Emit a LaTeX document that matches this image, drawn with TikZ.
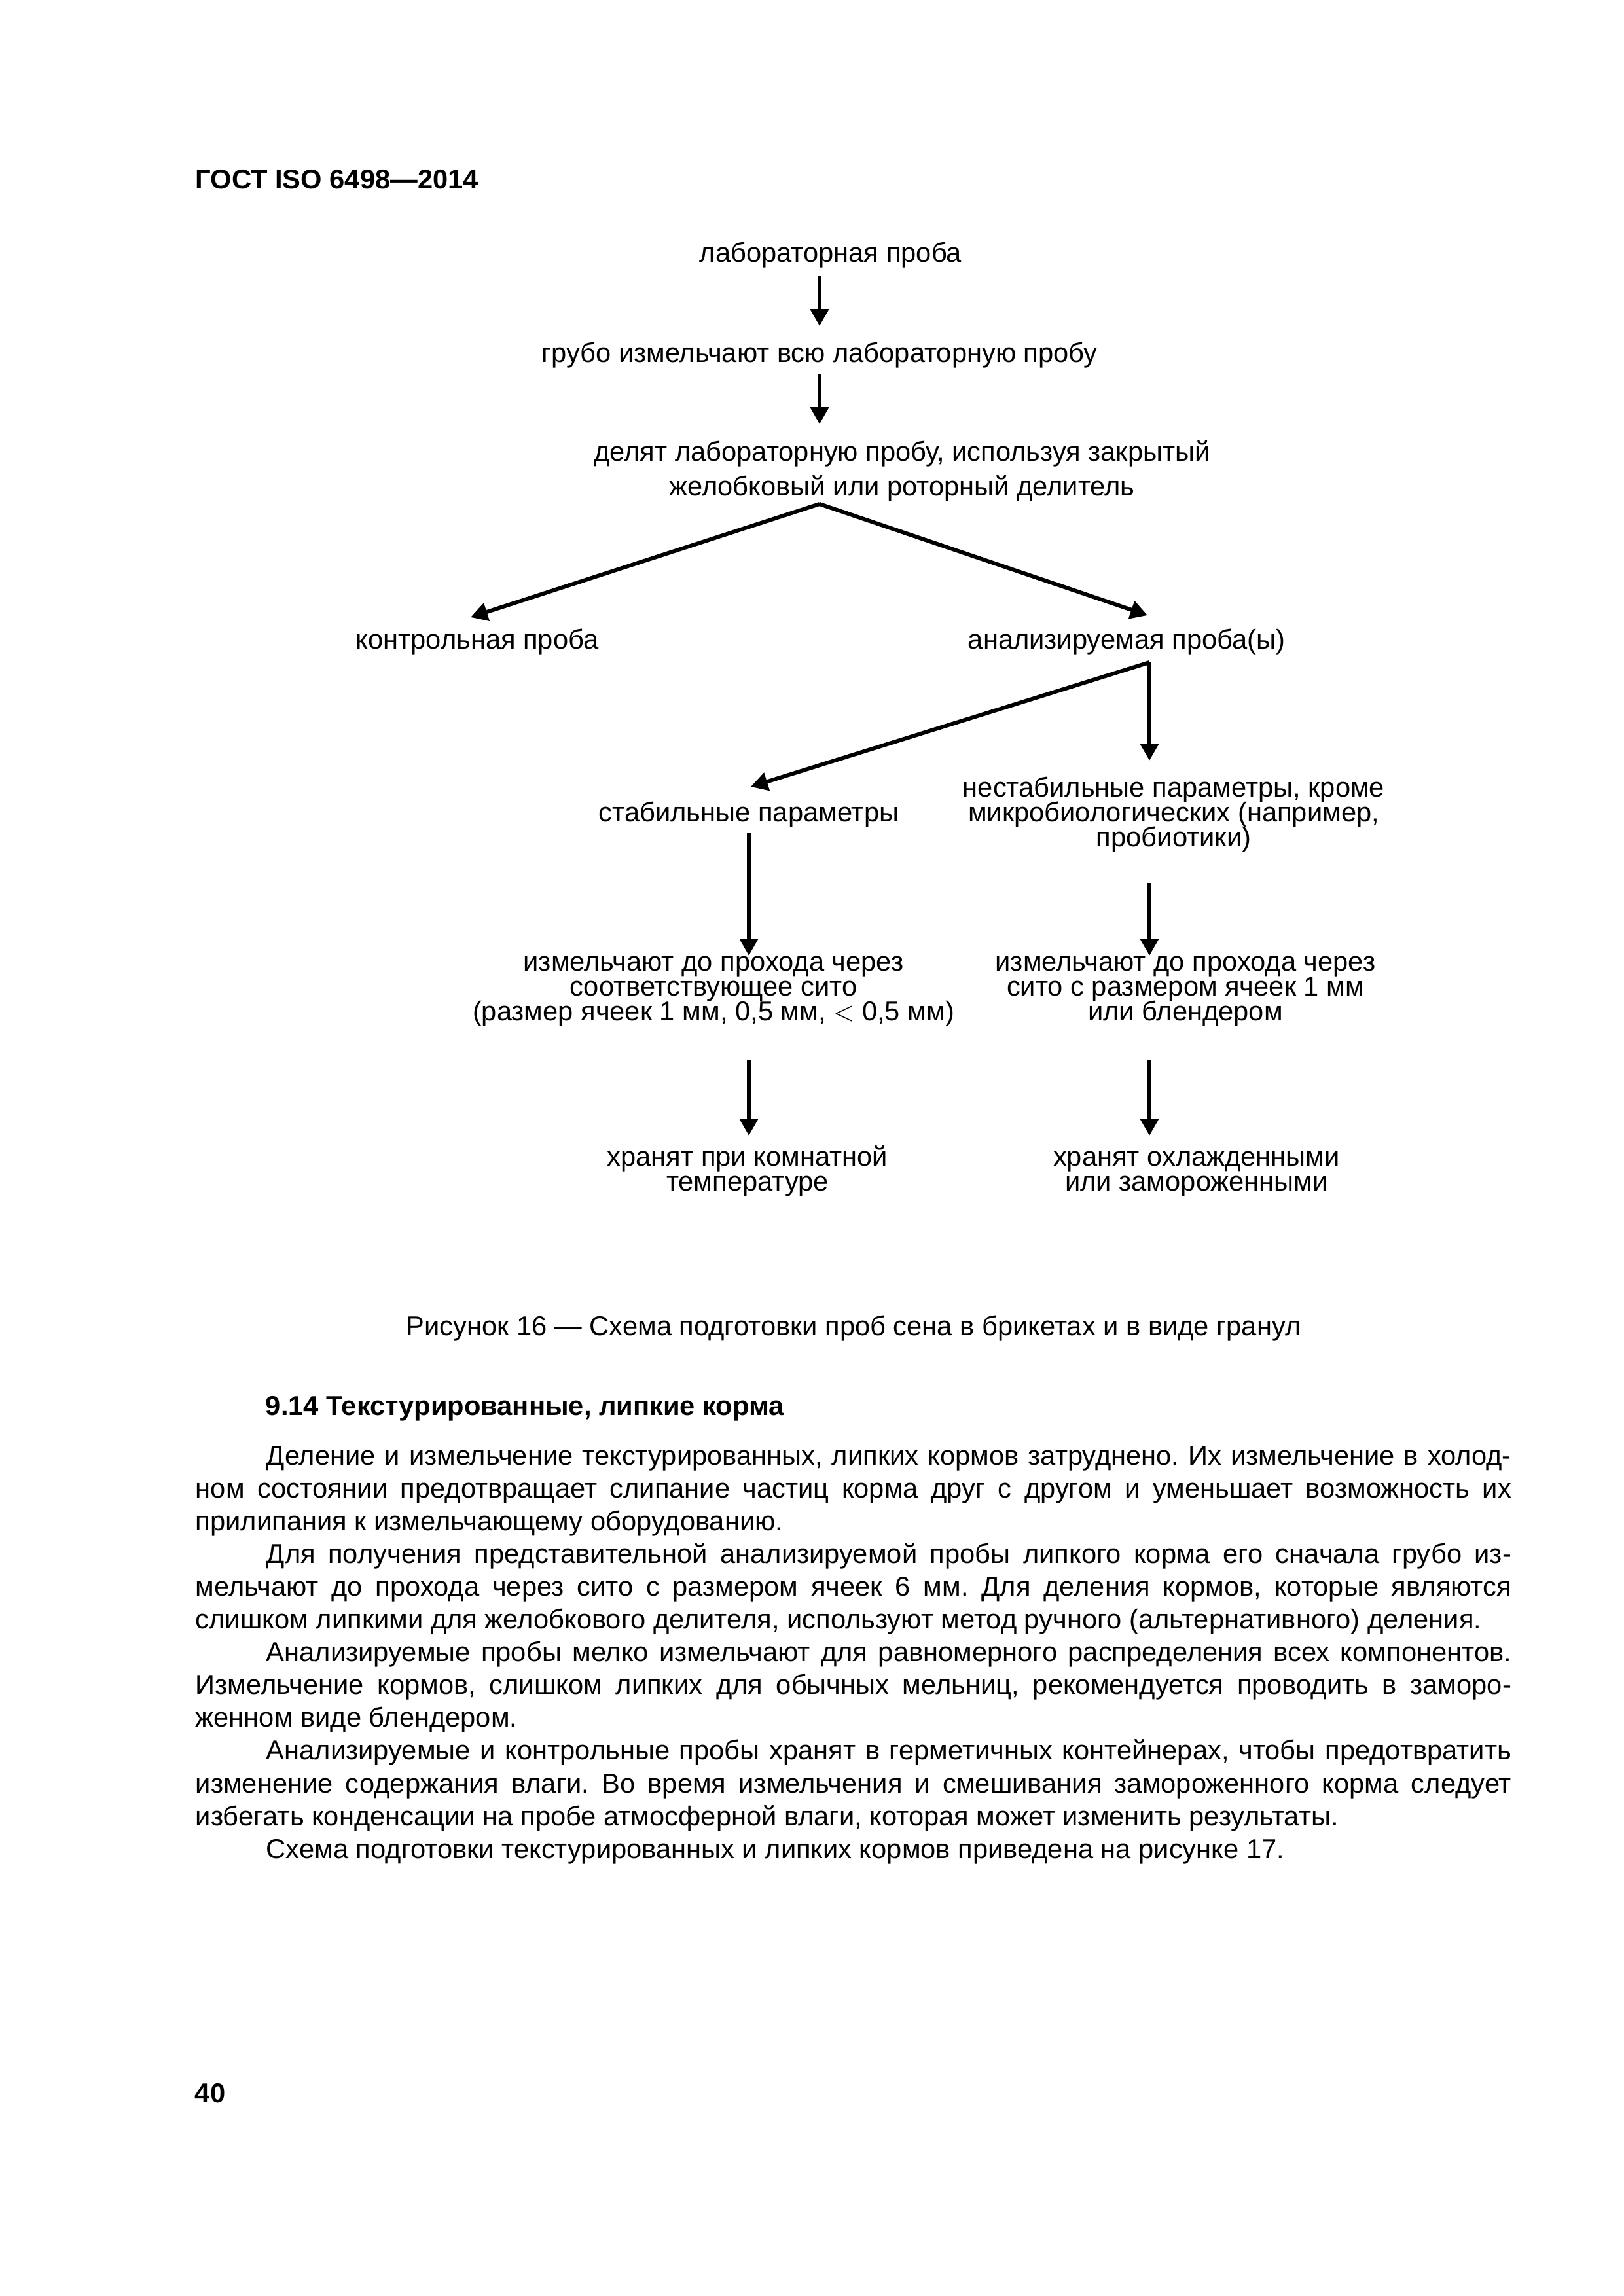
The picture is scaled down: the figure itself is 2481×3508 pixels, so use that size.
\documentclass[tikz,border=0pt]{standalone}
\usepackage{fontspec}
\setmainfont{Liberation Sans}
\usetikzlibrary{arrows.meta,calc}
\newcommand\fullline[1]{\makebox[482.3pt][s]{#1}}
\newcommand\firstline[1]{\makebox[482.3pt][s]{\hspace*{25.9pt}#1}}
\newcommand\tightlines{\setlength{\lineskiplimit}{-20pt}\frenchspacing}
\begin{document}
\begin{tikzpicture}[x=0.23993pt,y=-0.23993pt,
    box/.style={inner sep=0pt,anchor=base,align=center,font=\fontsize{10pt}{9.1pt}\selectfont\tightlines},
    head/.style={inner sep=0pt,anchor=base west,font=\bfseries\fontsize{10pt}{12pt}\selectfont},
    body/.style={inner sep=0pt,anchor=base west,align=left,font=\fontsize{10pt}{12pt}\selectfont\tightlines},
    arr/.style={line width=1.45pt,-{Triangle[length=6.2pt,width=6.6pt]}}]
    \useasboundingbox (0,0) rectangle (2481,3508);
    \node[head] (gost) at (298,288) {ГОСТ ISO 6498—2014};
    \node[box] (lab) at (1269,400) {лабораторная проба};
    \node[box] (coarse) at (1252,553) {грубо измельчают всю лабораторную пробу};
    \node[box,font=\fontsize{10pt}{12.5pt}\selectfont] (divide) at (1378,757) {делят лабораторную пробу, используя закрытый\\желобковый или роторный делитель};
    \node[box] (control) at (729,991) {контрольная проба};
    \node[box] (analysed) at (1721,991) {анализируемая проба(ы)};
    \node[box] (stable) at (1144,1255) {стабильные параметры};
    \node[box] (unstable) at (1793,1293) {нестабильные параметры, кроме\\микробиологических (например,\\пробиотики)};
    \node[box] (stabgrind) at (1090,1559) {измельчают до прохода через\\соответствующее сито\\(размер ячеек 1 мм, 0,5 мм, $<$ 0,5 мм)};
    \node[box] (unstgrind) at (1811,1559) {измельчают до прохода через\\сито с размером ячеек 1 мм\\или блендером};
    \node[box] (storeL) at (1142,1819) {хранят при комнатной\\температуре};
    \node[box] (storeR) at (1828,1819) {хранят охлажденными\\или замороженными};
    \coordinate (split) at ($(divide.base -| coarse.base)+(0,13)$);
    \coordinate (fork) at ($(analysed.base)+(35,21)$);
    \draw[arr] ($(lab.base -| coarse.base)+(0,22)$) -- ($(coarse.base)+(0,-55)$);
    \draw[arr] ($(coarse.base)+(0,19)$) -- ($(divide.base -| coarse.base)+(0,-109)$);
    \draw[arr] (split) -- ($(control.base)+(-10,-48)$);
    \draw[arr] (split) -- ($(analysed.base)+(32,-51)$);
    \draw[arr] (fork) -- ($(stable.base)+(3,-53)$);
    \draw[arr] (fork) -- ($(fork |- unstable.base)+(0,-131)$);
    \draw[arr] ($(stable.base)+(0,18)$) -- ($(stable.base |- stabgrind.base)+(0,-99)$);
    \draw[arr] ($(fork |- unstable.base)+(0,56)$) -- ($(fork |- unstgrind.base)+(0,-99)$);
    \draw[arr] ($(stable.base |- stabgrind.base)+(0,60)$) -- ($(stable.base |- storeL.base)+(0,-84)$);
    \draw[arr] ($(fork |- unstgrind.base)+(0,60)$) -- ($(fork |- storeR.base)+(0,-84)$);
    \node[box] (caption) at (1304,2040) {Рисунок 16 — Схема подготовки проб сена в брикетах и в виде гранул};
    \node[head] (section) at (405,2162) {9.14 Текстурированные, липкие корма};
    \node[body] (text) at (298,2839) {\firstline{Деление и измельчение текстурированных, липких кормов затруднено. Их измельчение в холод-}\\
        \fullline{ном состоянии предотвращает слипание частиц корма друг с другом и уменьшает возможность их}\\
        прилипания к измельчающему оборудованию.\\
        \firstline{Для получения представительной анализируемой пробы липкого корма его сначала грубо из-}\\
        \fullline{мельчают до прохода через сито с размером ячеек 6 мм. Для деления кормов, которые являются}\\
        слишком липкими для желобкового делителя, используют метод ручного (альтернативного) деления.\\
        \firstline{Анализируемые пробы мелко измельчают для равномерного распределения всех компонентов.}\\
        \fullline{Измельчение кормов, слишком липких для обычных мельниц, рекомендуется проводить в заморо-}\\
        женном виде блендером.\\
        \firstline{Анализируемые и контрольные пробы хранят в герметичных контейнерах, чтобы предотвратить}\\
        \fullline{изменение содержания влаги. Во время измельчения и смешивания замороженного корма следует}\\
        избегать конденсации на пробе атмосферной влаги, которая может изменить результаты.\\
        \hspace*{25.9pt}Схема подготовки текстурированных и липких кормов приведена на рисунке 17.};
    \node[head] (page) at (297,3212) {40};
\end{tikzpicture}
\end{document}
